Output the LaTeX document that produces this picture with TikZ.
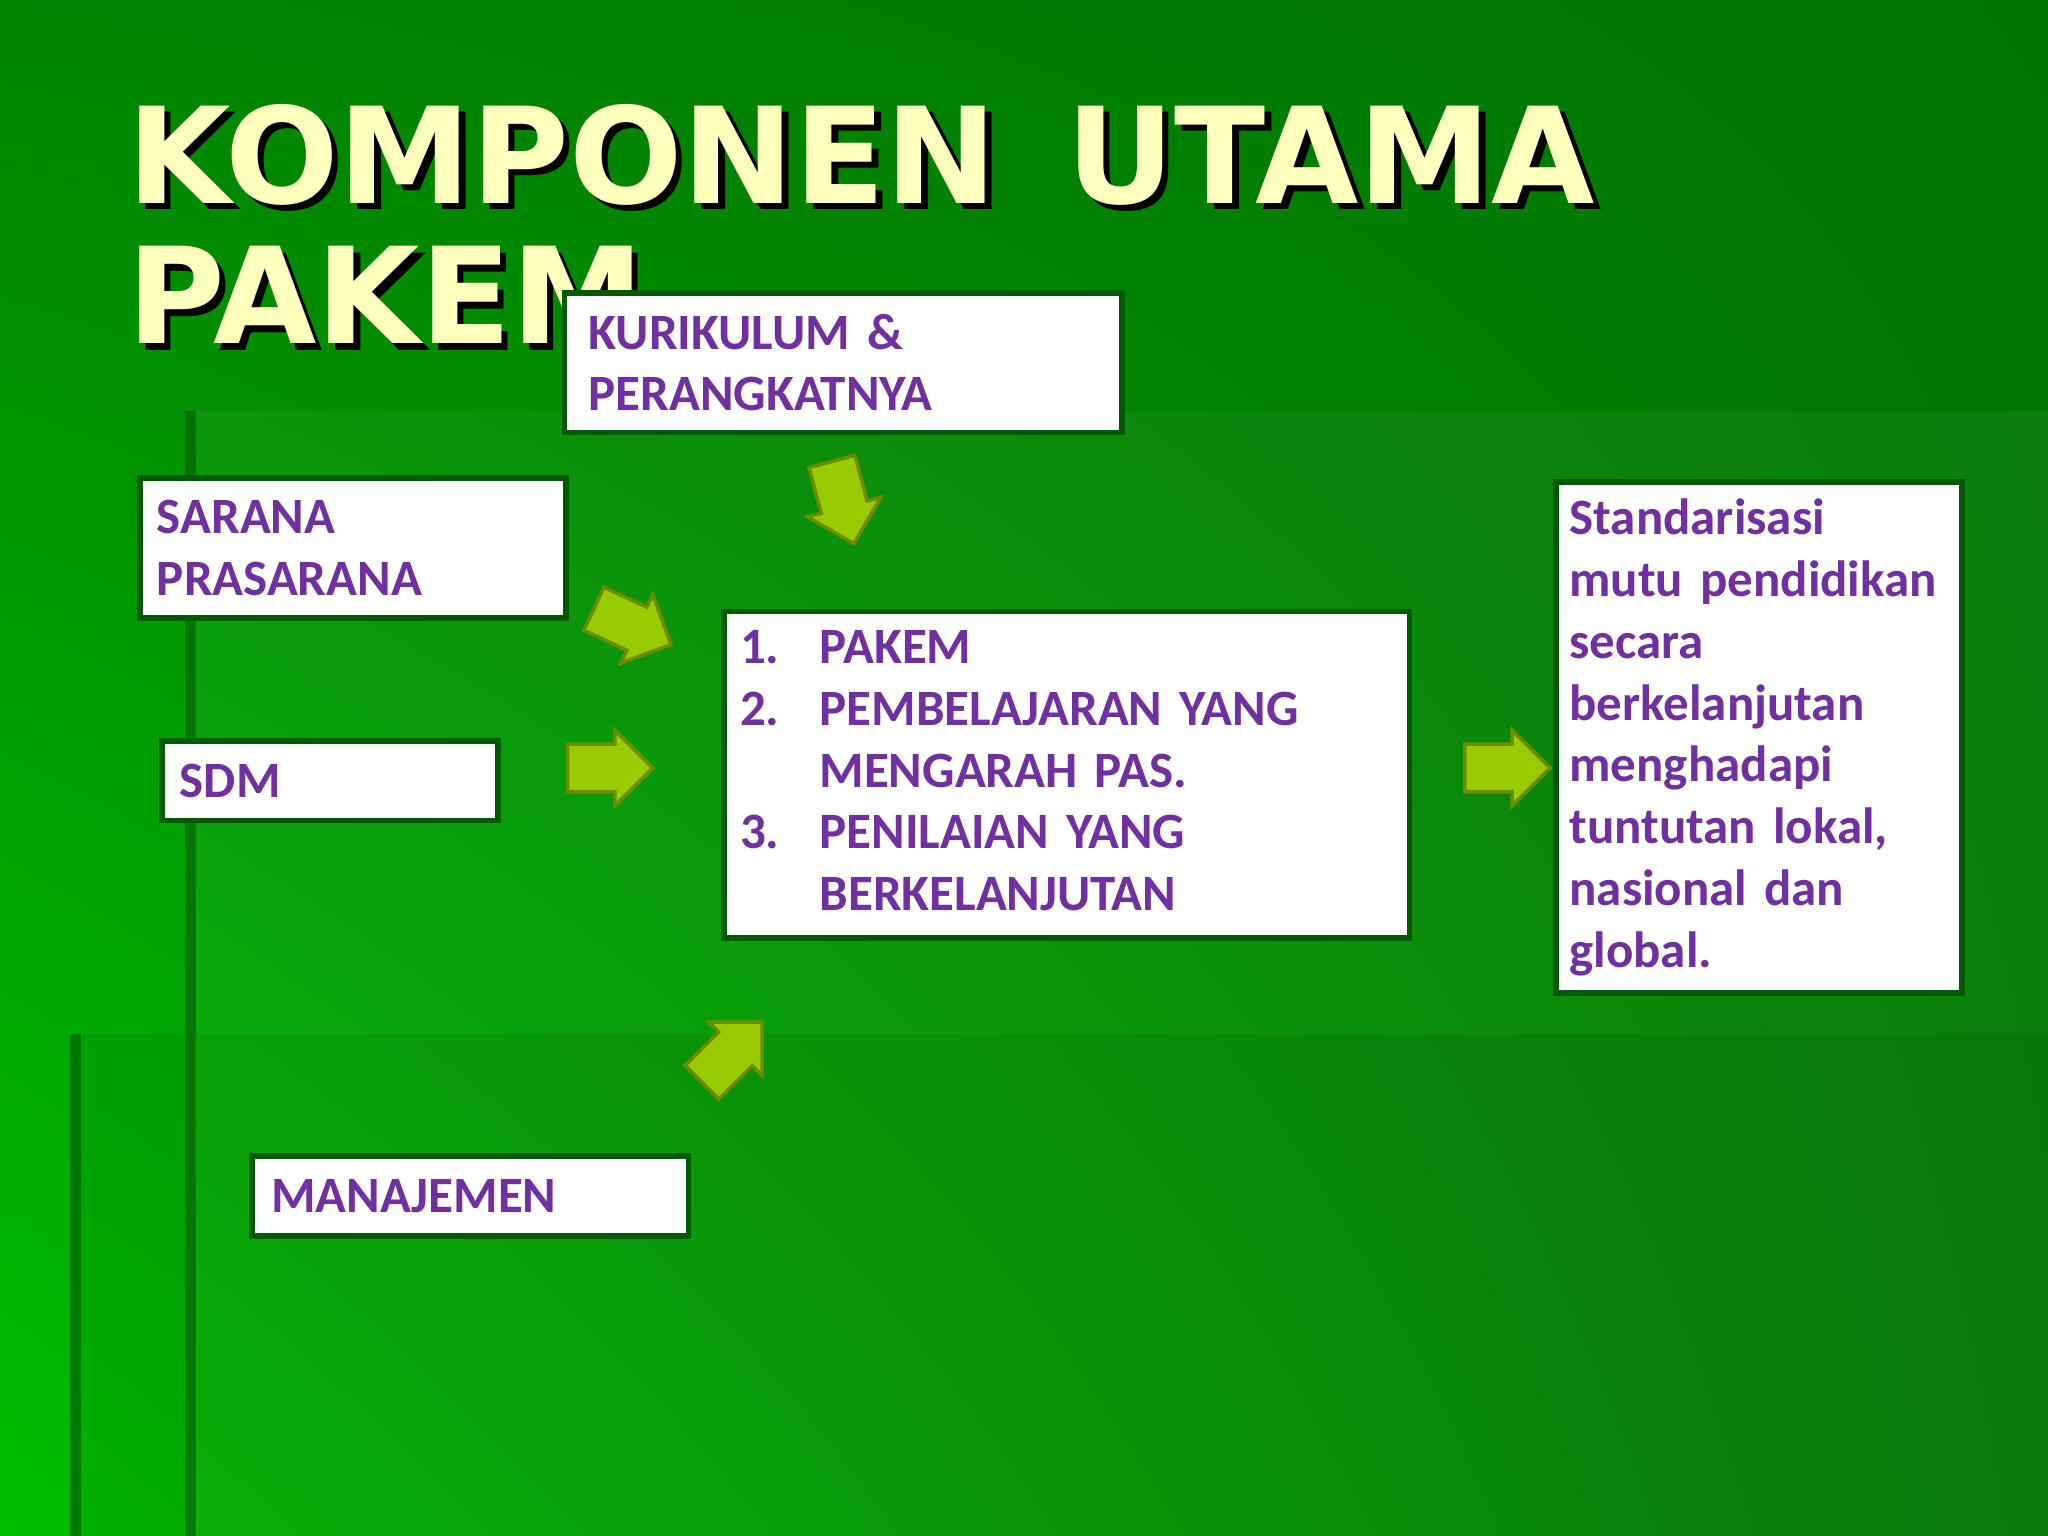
\documentclass[tikz,border=0pt]{standalone}
\usepackage{fontspec}
\setmainfont{Carlito}
\newfontfamily\titlefont{DejaVu Sans}
\usetikzlibrary{shapes.arrows,shadings}
\definecolor{bgdark}{RGB}{0,118,0}
\definecolor{bglight}{RGB}{0,190,0}
\definecolor{ttl}{RGB}{255,255,190}
\definecolor{purp}{RGB}{112,48,160}
\definecolor{bordg}{RGB}{0,90,0}
\definecolor{arrf}{RGB}{153,204,0}
\definecolor{arrd}{RGB}{110,140,0}
\tikzset{
  box/.style={draw=bordg,line width=1.6pt,fill=white,anchor=north west,inner sep=0pt,
    font=\fontsize{14.5}{17.6}\selectfont\bfseries,text=purp,align=left},
  garrow/.style={single arrow,draw=arrd,line width=1pt,fill=arrf,minimum height=0.85cm,
    inner xsep=0pt,inner ysep=0.22cm,single arrow head extend=0.14cm},
  ttlstyle/.style={font=\titlefont\fontsize{38}{40}\bfseries\selectfont,anchor=north west,align=left,inner sep=0pt}
}
\begin{document}
\begin{tikzpicture}[x=0.013061cm,y=-0.013061cm]
\useasboundingbox (0,0) rectangle (1568,1176);
\shade[lower left=bglight,upper right=bgdark,lower right=bgdark!90!bglight,upper left=bgdark!80!bglight] (0,0) rectangle (1568,1176);
\fill[white,opacity=0.04] (145,315) rectangle (1568,1176);
\fill[black,opacity=0.06] (57,792) rectangle (1568,1176);
\draw[bordg,line width=3pt,opacity=0.6] (146,315) -- (146,1176);
\draw[bordg,line width=3pt,opacity=0.6] (58,792) -- (58,1176);
% title
\node[ttlstyle,text=black] at (102,84) {KOMPONEN\ \,UTAMA\\PAKEM};
\node[ttlstyle,text=ttl] (title) at (97,79) {KOMPONEN\ \,UTAMA\\PAKEM};
% boxes
\node[box,minimum width=427*0.013061cm,minimum height=107*0.013061cm,text width=390*0.013061cm] (kur) at (430,222) {KURIKULUM \&\\PERANGKATNYA};
\node[box,minimum width=326*0.013061cm,minimum height=107*0.013061cm,text width=300*0.013061cm] (sar) at (105,364) {SARANA\\PRASARANA};
\node[box,minimum width=257*0.013061cm,minimum height=61*0.013061cm,text width=230*0.013061cm] (sdm) at (122,565) {SDM};
\node[box,minimum width=334*0.013061cm,minimum height=61*0.013061cm,text width=305*0.013061cm] (man) at (191,883) {MANAJEMEN};
\node[box,minimum width=525*0.013061cm,minimum height=250*0.013061cm,text width=500*0.013061cm] (mid) at (552,466)
 {\begin{tabular}{@{}l@{\hspace{0.4cm}}l@{}}1. & PAKEM\\2. & PEMBELAJARAN YANG\\ & MENGARAH PAS.\\3. & PENILAIAN YANG\\ & BERKELANJUTAN\end{tabular}};
\node[box,minimum width=311*0.013061cm,minimum height=391*0.013061cm,text width=290*0.013061cm] (res) at (1189,367)
 {Standarisasi\\mutu pendidikan\\secara\\berkelanjutan\\menghadapi\\tuntutan lokal,\\nasional dan\\global.};
% arrows
\node[garrow,rotate=-75] (a1) at (643,376) {};
\node[garrow,rotate=-25] (a2) at (476,476) {};
\node[garrow] (a3) at (458,588) {};
\node[garrow,rotate=45] (a4) at (554,812) {};
\node[garrow] (a5) at (1145,588) {};
\end{tikzpicture}
\end{document}
